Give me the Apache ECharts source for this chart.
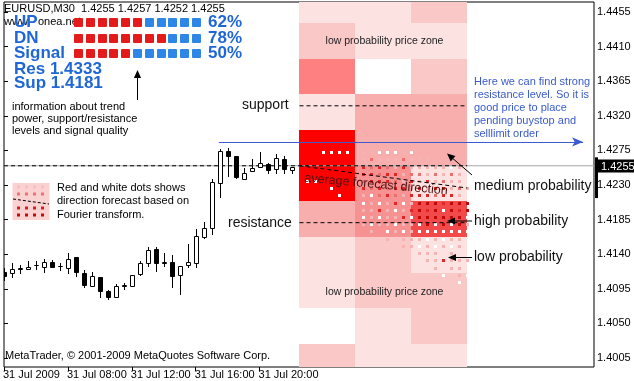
<!DOCTYPE html>
<html><head><meta charset="utf-8">
<script src="https://cdn.jsdelivr.net/npm/echarts@6/dist/echarts.min.js"></script>
<style>html,body{margin:0;padding:0;background:#fff}#c{width:634px;height:381px}</style>
</head><body><div id="c"></div>
<script>
// ---------------- DATA ----------------
const candleIdx = [0,1,2,3,4,5,6,7,8,9,10,11,12,13,14,15,16,17,18,19,20,21,22,23,24,25,26,27,28,29,30,31,32,33,34,35,36];
const opens  = [1.41169,1.41156,1.41214,1.41204,1.41256,1.41230,1.41299,1.41247,1.41217,1.41360,1.41152,1.40991,1.41108,1.40926,1.40848,1.40991,1.40987,1.41139,1.41290,1.41464,1.41290,1.41295,1.41126,1.41256,1.41282,1.41620,1.41737,1.42330,1.42746,1.42677,1.42374,1.42478,1.42530,1.42573,1.42504,1.42634,1.42495];
const closes = [1.41117,1.41208,1.41221,1.41238,1.41260,1.41299,1.41230,1.41250,1.41338,1.41165,1.41000,1.41117,1.40926,1.40848,1.40987,1.40994,1.41130,1.41290,1.41455,1.41282,1.41293,1.41121,1.41247,1.41295,1.41637,1.41737,1.42335,1.42746,1.42677,1.42400,1.42460,1.42517,1.42582,1.42495,1.42647,1.42504,1.42538];
const highs  = [1.41221,1.41286,1.41260,1.41312,1.41316,1.41334,1.41325,1.41282,1.41412,1.41368,1.41195,1.41165,1.41108,1.40935,1.41013,1.41030,1.41135,1.41316,1.41498,1.41498,1.41412,1.41390,1.41247,1.41533,1.41724,1.41823,1.42374,1.42764,1.42777,1.42680,1.42517,1.42634,1.42733,1.42582,1.42703,1.42677,1.42538];
const lows   = [1.41065,1.41104,1.41160,1.41204,1.41204,1.41173,1.41230,1.41195,1.41160,1.41117,1.40970,1.40991,1.40848,1.40814,1.40840,1.40944,1.40985,1.41130,1.41251,1.41186,1.41247,1.40978,1.40883,1.41230,1.41238,1.41607,1.41663,1.42148,1.42417,1.42397,1.42374,1.42478,1.42530,1.42452,1.42460,1.42460,1.42452];

const timeTickIdx = [0,8,16,24,32];
const timeTickLabels = ['31 Jul 2009','31 Jul 08:00','31 Jul 12:00','31 Jul 16:00','31 Jul 20:00'];
const priceTicks = [1.4005,1.4050,1.4095,1.4140,1.4185,1.4230,1.4275,1.4320,1.4365,1.4410,1.4455];
const lastPrice = 1.4255;
const lastBarRange = [1.4213, 1.4266];
const resLevel = 1.4333;
const supLevel = 1.4181;
const blueArrowLevel = 1.4286;
const blueArrowFrom = 26.9, blueArrowTo = 72.5;

// forecast zone: three columns (bar index start/end), rows by price edges, level per cell
const zoneColStart = [37,44,51];
const zoneColEnd   = [44,51,58];
const zoneRowEdges = [1.4468,1.44407,1.43942,1.43478,1.43014,1.4255,1.42086,1.41622,1.41158,1.40694,1.4023,1.3993];
const zoneLevels = [
  [1,2,4,1,6,6,3,1,1,0,2],
  [1,1,0,3,3,7,7,2,2,1,1],
  [2,1,2,3,3,1,5,1,2,2,1]
];
const forecastStart = [37, 1.4255];
const forecastEnd   = [58, 1.42261];

// Fourier dots: columns = bar index, rows = price, chars = dot tone
const dotCols = [38,39,40,41,42,43,44,45,46,47,48,49,50,51,52,53,54,55,56,57,58];
const dotRowPrices = [1.42725,1.42632,1.42538,1.42444,1.42351,1.42257,1.42164,1.42070,1.41976,1.41883,1.41789,1.41696,1.41602,1.41508,1.41415,1.41321,1.41227,1.41134,1.41040,1.40947];
const dotMap = [
  "..wwww.ppwwwpw.......",
  ".......pmpppmppp.....",
  ".......rmrmprpppppwp.",
  ".......rrmrrpmmpmpmp.",
  "ww.....mrrrmprprpmpp.",
  "...w...rmrmrrprprrpmp",
  "....w..pwmrmprrrmrrp.",
  ".......wpwprwpdddrddd",
  ".......pprpwprdrdwdrd",
  ".......wpwpprwddddddw",
  ".......pwppwppwdwdwdp",
  "........p.wpwpwwwwwww",
  "..........p.pppwpwpp.",
  "............ppwpwpwp.",
  "..............ppp.p..",
  "...............pprppp",
  "................p.pp.",
  ".................w.pw",
  "...................w.",
  "....................."
];

// indicator panel
const panelRows = ['UP','DN','Signal'];
const panelRed  = [6,8,5];
const panelTotal = 11;
const panelPct  = ['62%','78%','50%'];
const resText = 'Res 1.4333', supText = 'Sup 1.4181';

// ---------------- STYLE ----------------
const zonePalette = ['#ffffff','#fde2e2','#fbc8c8','#f9aeae','#ff8080','#f24a4a','#ff0000','#f69292'];
const dotPalette = {w:'#ffffff', p:'#f6b3b3', m:'#ec6f6f', r:'#e02626', d:'#bf0a0a'};
const NARROW = "'Liberation Sans Narrow','Liberation Sans',sans-serif";
const ARIAL = "'Liberation Sans',Arial,sans-serif";
const BLUE = '#1f66d6';
const NOTE_BLUE = '#3b5bcc';

const chart = echarts.init(document.getElementById('c'));

const candleData = candleIdx.map((k,i)=>[k,opens[i],closes[i],lows[i],highs[i]]);
const zoneData = [];
zoneLevels.forEach((col,ci)=>col.forEach((lv,ri)=>zoneData.push([zoneColStart[ci],zoneColEnd[ci],zoneRowEdges[ri],zoneRowEdges[ri+1],lv])));
const dotData = [];
dotMap.forEach((row,ri)=>{ for(let ci=0;ci<row.length;ci++){ const ch=row[ci]; if(ch!=='.') dotData.push([dotCols[ci],dotRowPrices[ri],ch]); } });

// graphic helpers
const G = [];
function txt(x,y,text,font,fill,extra){ G.push(Object.assign({type:'text',x:x,y:y,z:100,silent:true,style:{text:text,font:font,fill:fill||'#000',verticalAlign:'middle',align:'left'}},extra||{})); }
function arrow(x1,y1,x2,y2,color,head){
  head = head||7; const w = head*0.45;
  const a = Math.atan2(y2-y1,x2-x1);
  const bx = x2-head*Math.cos(a), by = y2-head*Math.sin(a);
  G.push({type:'line',z:100,silent:true,shape:{x1:x1,y1:y1,x2:bx,y2:by},style:{stroke:color,lineWidth:1}});
  G.push({type:'polygon',z:100,silent:true,shape:{points:[[x2,y2],[bx+w*Math.sin(a),by-w*Math.cos(a)],[bx-w*Math.sin(a),by+w*Math.cos(a)]]},style:{fill:color}});
}

// panel
txt(4,9,'EURUSD,M30  1.4255 1.4257 1.4252 1.4255','11px '+NARROW,'#000');
txt(4,22,'www.','11px '+NARROW,'#000');
txt(38,22,'onea.net','11px '+NARROW,'#000');
const rowY = [22,38,53];
panelRows.forEach((lab,i)=>{
  txt(14,rowY[i],lab,'bold 17px '+ARIAL,BLUE);
  for(let s=0;s<panelTotal;s++){
    G.push({type:'rect',z:100,silent:true,shape:{x:74+Math.round(s*11.8),y:rowY[i]-4,width:9,height:9,r:1},style:{fill:s<panelRed[i]?'#e41b1b':'#2e86e6'}});
  }
  txt(208,rowY[i],panelPct[i],'bold 17px '+ARIAL,BLUE);
});
txt(14,69,resText,'bold 17px '+ARIAL,BLUE);
txt(14,83.5,supText,'bold 17px '+ARIAL,BLUE);
arrow(137.5,100,137.5,70,'#000',8);
txt(12,106.5,'information about trend','11px '+ARIAL,'#000');
txt(12,118.5,'power, support/resistance','11px '+ARIAL,'#000');
txt(12,130.5,'levels and signal quality','11px '+ARIAL,'#000');

// legend picture
G.push({type:'rect',z:100,silent:true,shape:{x:12.5,y:183,width:37,height:37},style:{fill:'#fbd2d2'}});
[[187,'#f7c0c0'],[194,'#ea7474'],[208,'#d82020'],[215,'#c40a0a']].forEach(r=>{
  [17,25,33,41].forEach(x=>G.push({type:'rect',z:101,silent:true,shape:{x:x,y:r[0]-1.5,width:3,height:3},style:{fill:r[1]}}));
});
G.push({type:'line',z:101,silent:true,shape:{x1:13,y1:199,x2:49,y2:204},style:{stroke:'#000',lineWidth:1,lineDash:[3,2]}});
txt(57,187.5,'Red and white dots shows','11px '+ARIAL,'#000');
txt(57,201,'direction forecast based on','11px '+ARIAL,'#000');
txt(57,214.5,'Fourier transform.','11px '+ARIAL,'#000');

// annotations on chart
txt(242,105.5,'support','14px '+ARIAL,'#111');
txt(228,223.5,'resistance','14px '+ARIAL,'#111');
G.push({type:'text',x:384.5,y:41.5,z:100,silent:true,style:{text:'low probability price zone',font:'10.5px '+ARIAL,fill:'#222',align:'center',verticalAlign:'middle'}});
G.push({type:'text',x:384.5,y:292.5,z:100,silent:true,style:{text:'low probability price zone',font:'10.5px '+ARIAL,fill:'#222',align:'center',verticalAlign:'middle'}});
['Here we can find strong','resistance level. So it is','good price to place','pending buystop and','selllimit order'].forEach((t,i)=>txt(474,81.5+i*13,t,'11px '+ARIAL,NOTE_BLUE));
txt(474,186.5,'medium probability','14px '+ARIAL,'#111');
txt(474,221,'high probability','14px '+ARIAL,'#111');
txt(474,257.5,'low probability','14px '+ARIAL,'#111');
arrow(472,221,447,221,'#000',8);
arrow(472,257.5,448,257.5,'#000',8);
arrow(472,175,447,153.5,'#000',8);
G.push({type:'text',x:376,y:184.5,rotation:-0.09,z:100,silent:true,style:{text:'average forecast direction',font:'12.5px '+ARIAL,fill:'#4a1212',align:'center',verticalAlign:'middle'}});
txt(5,356,'MetaTrader, \u00a9 2001-2009 MetaQuotes Software Corp.','11px '+NARROW,'#000');

const option = {
  animation:false,
  backgroundColor:'#fff',
  grid:{left:3,right:40,top:2,bottom:14,show:true,borderColor:'#000',borderWidth:1,backgroundColor:'transparent'},
  xAxis:{type:'value',min:0,max:73.875,position:'bottom',
    axisLine:{show:false},splitLine:{show:false},
    axisTick:{show:true,customValues:timeTickIdx,length:4,lineStyle:{color:'#000'}},
    axisLabel:{customValues:timeTickIdx,formatter:v=>timeTickLabels[timeTickIdx.indexOf(Math.round(v))]||'',align:'left',margin:2,color:'#000',fontSize:11,fontFamily:NARROW,padding:[0,0,0,-1]}},
  yAxis:{type:'value',min:1.39933,max:1.4468,position:'right',scale:true,
    axisLine:{show:false},splitLine:{show:false},
    axisTick:{show:true,customValues:priceTicks,length:4,lineStyle:{color:'#000'}},
    axisLabel:{customValues:priceTicks,formatter:v=>v.toFixed(4),margin:3,color:'#000',fontSize:11,fontFamily:NARROW}},
  graphic:G,
  series:[
    {type:'custom',name:'zones',z:1,data:zoneData,encode:{x:[0,1],y:[2,3]},clip:true,
      renderItem:(p,api)=>{
        const a=api.coord([api.value(0),api.value(2)]), b=api.coord([api.value(1),api.value(3)]);
        const lv=api.value(4);
        return {type:'rect',shape:{x:Math.round(a[0]),y:Math.round(a[1]),width:Math.round(b[0])-Math.round(a[0]),height:Math.round(b[1])-Math.round(a[1])},style:{fill:zonePalette[lv]}};
      }},
    {type:'custom',name:'dots',z:2,data:dotData,encode:{x:0,y:1},clip:true,
      dimensions:['k','price',{name:'tone',type:'ordinal'}],
      renderItem:(p,api)=>{
        const c=api.coord([api.value(0),api.value(1)]);
        const tone=dotData[p.dataIndex][2];
        return {type:'rect',shape:{x:Math.round(c[0])-1,y:Math.round(c[1])-1,width:3,height:3},style:{fill:dotPalette[tone]}};
      }},
    {type:'line',name:'bid',z:3,data:[[0,lastPrice],[73.875,lastPrice]],symbol:'none',lineStyle:{color:'#a8a8a8',width:1},silent:true},
    {type:'line',name:'lastDashed',z:4,data:[[0,lastPrice],[58,lastPrice]],symbol:'none',lineStyle:{color:'#000',width:1,type:[4,3]},silent:true},
    {type:'line',name:'res',z:4,data:[[37,resLevel],[58,resLevel]],symbol:'none',lineStyle:{color:'#000',width:1,type:[4,3]},silent:true},
    {type:'line',name:'sup',z:4,data:[[37,supLevel],[58,supLevel]],symbol:'none',lineStyle:{color:'#000',width:1,type:[4,3]},silent:true},
    {type:'line',name:'forecast',z:4,data:[forecastStart,forecastEnd],symbol:'none',lineStyle:{color:'#000',width:1,type:[4,3]},silent:true},
    {type:'line',name:'blue',z:4,data:[],silent:true,
      markLine:{silent:true,symbol:['none','arrow'],symbolSize:[7,11],label:{show:false},lineStyle:{color:'#3c5ad2',width:1,type:'solid'},
        data:[[{coord:[blueArrowFrom,blueArrowLevel]},{coord:[blueArrowTo,blueArrowLevel]}]]}},
    {type:'custom',name:'candles',z:5,data:candleData,encode:{x:0,y:[1,2,3,4]},clip:true,
      renderItem:(p,api)=>{
        const k=api.value(0),o=api.value(1),c=api.value(2),l=api.value(3),h=api.value(4);
        const pO=api.coord([k,o]),pC=api.coord([k,c]),pL=api.coord([k,l]),pH=api.coord([k,h]);
        const cx=Math.round(pO[0])+0.5;
        let top=Math.round(Math.min(pO[1],pC[1]))+0.5, bot=Math.round(Math.max(pO[1],pC[1]))+0.5;
        const bull=c>=o;
        return {type:'group',children:[
          {type:'line',shape:{x1:cx,y1:Math.round(pH[1]),x2:cx,y2:Math.round(pL[1])+1},style:{stroke:'#000',lineWidth:1}},
          {type:'rect',shape:{x:cx-2,y:top,width:4,height:bot-top},style:{fill:bull?'#fff':'#000',stroke:'#000',lineWidth:1}}
        ]};
      }},
    {type:'custom',name:'priceTag',z:6,data:[[73.875,lastPrice]],encode:{x:0,y:1},clip:false,
      renderItem:(p,api)=>{
        const c=api.coord([api.value(0),api.value(1)]);
        const t=api.coord([api.value(0),lastBarRange[1]]), b=api.coord([api.value(0),lastBarRange[0]]);
        return {type:'group',children:[
          {type:'rect',shape:{x:c[0]+1,y:t[1],width:3,height:b[1]-t[1]},style:{fill:'#000'}},
          {type:'rect',shape:{x:c[0]+3,y:Math.round(c[1])-6.5,width:40,height:13},style:{fill:'#000'}},
          {type:'text',x:c[0]+7,y:Math.round(c[1])+0.5,style:{text:lastPrice.toFixed(4),fill:'#fff',font:'11px '+NARROW,verticalAlign:'middle'}}
        ]};
      }}
  ]
};
chart.setOption(option);
</script>
</body></html>
